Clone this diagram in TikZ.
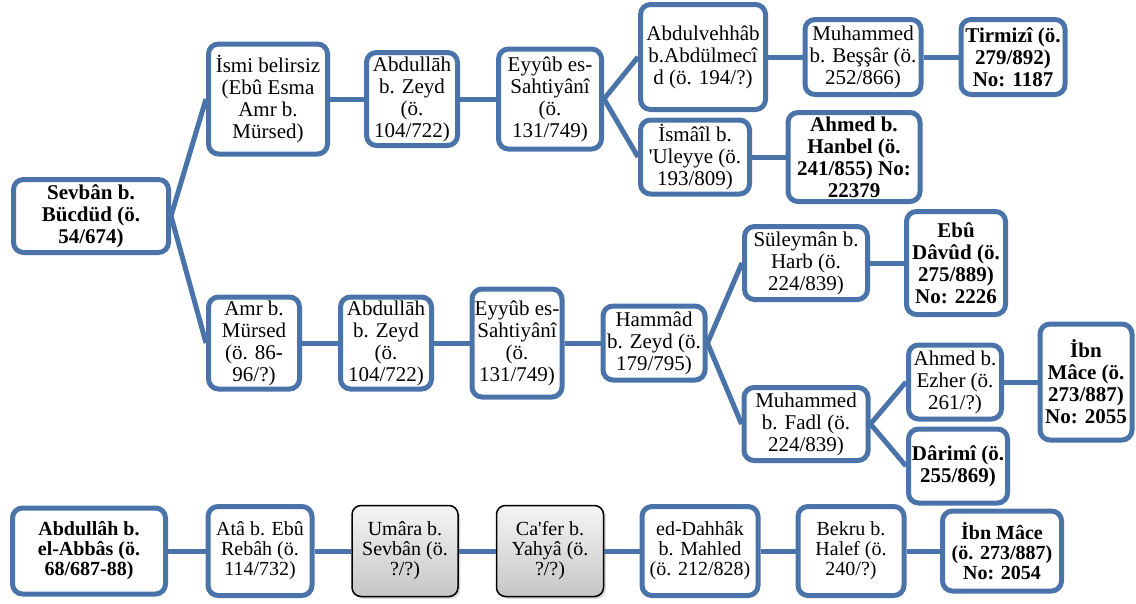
\documentclass[tikz,border=0pt]{standalone}
\usepackage{fontspec}
\setmainfont{Liberation Serif}[Ligatures=TeXOff]
\usetikzlibrary{shadows}
\definecolor{bl}{RGB}{74,115,170}
\tikzset{
  box/.style={draw=bl, line width=5pt, rounded corners=10pt, fill=white, inner sep=0pt,
    align=center, font=\fontsize{21}{22}\selectfont},
  bbox/.style={box, font=\bfseries\fontsize{21}{22}\selectfont},
  lowbox/.style={box, font=\fontsize{20}{20}\selectfont},
  lowbbox/.style={box, font=\bfseries\fontsize{20}{20}\selectfont},
  graybox/.style={draw=black, line width=1.5pt, rounded corners=9pt, top color=gray!8,
    bottom color=gray!45, inner sep=0pt, align=center, drop shadow={opacity=0.3},
    font=\fontsize{20}{20}\selectfont},
  link/.style={draw=bl, line width=5pt},
}
\begin{document}
\begin{tikzpicture}[x=1pt,y=-1pt]
\useasboundingbox (0,0) rectangle (1136,603);
% top branch
\node[bbox, minimum width=155pt, minimum height=73pt] (sev) at (91,216) {Sevbân b.\\Bücdüd (ö.\\54/674)};
\node[box, minimum width=119pt, minimum height=110pt] (ismi) at (268,99) {İsmi belirsiz\\(Ebû Esma\\Amr b.\\Mürsed)};
\node[box, minimum width=91pt, minimum height=93pt] (abd1) at (412,99) {Abdullāh\\b. Zeyd\\(ö.\\104/722)};
\node[box, minimum width=103pt, minimum height=100pt] (eyy1) at (550,99) {Eyyûb es-\\Sahtiyânî\\(ö.\\131/749)};
\node[box, minimum width=125pt, minimum height=105pt] (abdv) at (703,57) {Abdulvehhâb\\b.Abdülmecî\\d (ö. 194/?)};
\node[box, minimum width=116pt, minimum height=75pt] (mbes) at (863,57) {Muhammed\\b. Beşşâr (ö.\\252/866)};
\node[bbox, minimum width=104pt, minimum height=75pt] (tirm) at (1013,57) {Tirmizî (ö.\\279/892)\\No: 1187};
\node[box, minimum width=109pt, minimum height=74pt] (isma) at (695,157) {İsmâîl b.\\'Uleyye (ö.\\193/809)};
\node[bbox, minimum width=132pt, minimum height=89pt] (hanb) at (854,157) {Ahmed b.\\Hanbel (ö.\\241/855) No:\\22379};
% middle branch
\node[box, minimum width=91pt, minimum height=92pt] (amr) at (254,343) {Amr b.\\Mürsed\\(ö. 86-\\96/?)};
\node[box, minimum width=91pt, minimum height=92pt] (abd2) at (386,343) {Abdullāh\\b. Zeyd\\(ö.\\104/722)};
\node[box, minimum width=90pt, minimum height=108pt] (eyy2) at (517,343) {Eyyûb es-\\Sahtiyânî\\(ö.\\131/749)};
\node[box, minimum width=102pt, minimum height=74pt] (hamm) at (654,343) {Hammâd\\b. Zeyd (ö.\\179/795)};
\node[box, minimum width=123pt, minimum height=73pt] (sule) at (806,263) {Süleymân b.\\Harb (ö.\\224/839)};
\node[bbox, minimum width=99pt, minimum height=103pt] (ebud) at (956,263) {Ebû\\Dâvûd (ö.\\275/889)\\No: 2226};
\node[box, minimum width=124pt, minimum height=73pt] (mfad) at (806,424) {Muhammed\\b. Fadl (ö.\\224/839)};
\node[box, minimum width=93pt, minimum height=74pt] (aezh) at (955,382) {Ahmed b.\\Ezher (ö.\\261/?)};
\node[bbox, minimum width=99pt, minimum height=74pt] (dari) at (958,466) {Dârimî (ö.\\255/869)};
\node[bbox, minimum width=92pt, minimum height=116pt] (ibna) at (1086,382) {İbn\\Mâce (ö.\\273/887)\\No: 2055};
% bottom chain
\node[lowbbox, minimum width=153pt, minimum height=86pt] (abb) at (89,551) {Abdullâh b.\\el-Abbâs (ö.\\68/687-88)};
\node[lowbox, minimum width=104pt, minimum height=89pt] (ata) at (260,551) {Atâ b. Ebû\\Rebâh (ö.\\114/732)};
\node[graybox, minimum width=106pt, minimum height=91pt] (uma) at (405,551) {Umâra b.\\Sevbân (ö.\\?/?)};
\node[graybox, minimum width=107pt, minimum height=91pt] (caf) at (550,551) {Ca'fer b.\\Yahyâ (ö.\\?/?)};
\node[lowbox, minimum width=116pt, minimum height=89pt] (dah) at (700,551) {ed-Dahhâk\\b. Mahled\\(ö. 212/828)};
\node[lowbox, minimum width=106pt, minimum height=89pt] (bek) at (851,551) {Bekru b.\\Halef (ö.\\240/?)};
\node[lowbbox, minimum width=119pt, minimum height=80pt] (ibnb) at (1002,551) {İbn Mâce\\(ö. 273/887)\\No: 2054};
% connectors
\path[link] (sev.east) -- (ismi.west);
\path[link] (sev.east) -- (amr.west);
\path[link] (ismi.east) -- (abd1.west);
\path[link] (abd1.east) -- (eyy1.west);
\path[link] (eyy1.east) -- (abdv.west);
\path[link] (eyy1.east) -- (isma.west);
\path[link] (abdv.east) -- (mbes.west);
\path[link] (mbes.east) -- (tirm.west);
\path[link] (isma.east) -- (hanb.west);
\path[link] (amr.east) -- (abd2.west);
\path[link] (abd2.east) -- (eyy2.west);
\path[link] (eyy2.east) -- (hamm.west);
\path[link] (hamm.east) -- (sule.west);
\path[link] (hamm.east) -- (mfad.west);
\path[link] (sule.east) -- (ebud.west);
\path[link] (mfad.east) -- (aezh.west);
\path[link] (mfad.east) -- (dari.west);
\path[link] (aezh.east) -- (ibna.west);
\path[link] (abb.east) -- (ata.west);
\path[link] (ata.east) -- (uma.west);
\path[link] (uma.east) -- (caf.west);
\path[link] (caf.east) -- (dah.west);
\path[link] (dah.east) -- (bek.west);
\path[link] (bek.east) -- (ibnb.west);
\end{tikzpicture}
\end{document}
